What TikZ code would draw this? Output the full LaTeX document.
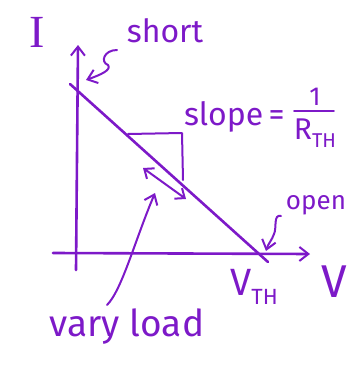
\documentclass[tikz,border=0pt]{standalone}
\usepackage{fontspec}
\setmainfont{Fira Sans}
\newfontfamily\serifI{Liberation Serif}
\usetikzlibrary{arrows.meta}
\definecolor{ink}{RGB}{125,25,200}
\begin{document}
\begin{tikzpicture}[x=1pt,y=-1pt,
  pen/.style={draw=ink,line width=2.6pt,line cap=round,line join=round},
  thin/.style={draw=ink,line width=2pt,line cap=round,line join=round},
  barb/.style={-{Straight Barb[length=9pt,width=14pt,line width=2pt]}},
  lbl/.style={text=ink,inner sep=0pt,font=\fontsize{26}{28}\selectfont}]
\useasboundingbox (0,0) rectangle (359,370);
% axes
\coordinate (yb) at (76,270);
\coordinate (yt) at (78,45);
\coordinate (xl) at (53,253);
\coordinate (xr) at (310,254);
\draw[pen,barb] (yb) -- (yt);
\draw[pen,barb] (xl) -- (xr);
% load line
\coordinate (d1) at (70,84);
\coordinate (d2) at (268,262);
\draw[pen] (d1) -- (d2);
% slope triangle
\coordinate (r1) at (128,134);
\coordinate (r2) at (182,133);
\coordinate (r3) at (183,180);
\draw[thin] (r1) -- (r2) -- (r3);
% double arrow
\coordinate (a1) at (143,168);
\coordinate (a2) at (186,199);
\draw[thin,{Straight Barb[length=8pt,width=13pt,line width=2pt]}-{Straight Barb[length=8pt,width=13pt,line width=2pt]}] (a1) -- (a2);
% labels
\node[lbl,font=\serifI\fontsize{46}{48}\selectfont] (I) at (37,32) {I};
\node[lbl,font=\fontsize{46}{48}\selectfont] (V) at (334,282) {V};
\node[lbl,font=\fontsize{32}{34}\selectfont] (short) at (165,31) {short};
\node[lbl] (open) at (316,205) {open};
\node[lbl,font=\fontsize{37}{39}\selectfont] (vary) at (127,327) {vary load};
\node[lbl,font=\fontsize{38}{40}\selectfont] (vth) at (254,287) {V\raisebox{-0.25em}{\fontsize{22}{24}\selectfont TH}};
\node[lbl,font=\fontsize{32}{34}\selectfont] (slope) at (237,117) {slope\,=\,};
\node[lbl,font=\fontsize{26}{28}\selectfont] (one) at (315,97) {1};
\node[lbl,font=\fontsize{30}{32}\selectfont] (rth) at (315,133) {R\raisebox{-0.25em}{\fontsize{20}{22}\selectfont TH}};
\draw[ink,line width=1.8pt,line cap=round] (294,111) -- (334,111);
% annotation arrows
\coordinate (s0) at (117,50);
\coordinate (s1) at (86,80);
\draw[thin,barb] (s0) .. controls (104,50) and (100,62) .. (108,65) .. controls (112,70) and (100,75) .. (s1);
\coordinate (o0) at (281,216);
\coordinate (o1) at (266,251);
\draw[thin,barb] (o0) .. controls (273,214) and (277,228) .. (274,234) .. controls (272,240) and (268,244) .. (o1);
\coordinate (v0) at (107,305);
\coordinate (v1) at (155,193);
\draw[thin,barb] (v0) .. controls (122,290) and (135,240) .. (v1);
\end{tikzpicture}
\end{document}
